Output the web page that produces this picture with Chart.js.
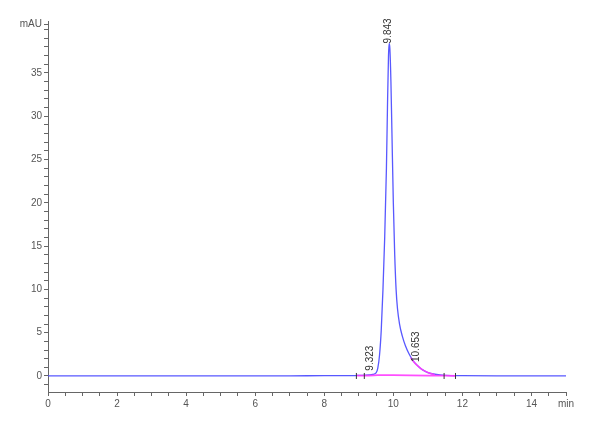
<!DOCTYPE html>
<html>
<head>
<meta charset="utf-8">
<script src="https://cdn.jsdelivr.net/npm/chart.js@4"></script>
<style>
  body { margin: 0; background: #fff; }
  canvas { display: block; }
</style>
</head>
<body>
<canvas id="chart" width="600" height="440"></canvas>
<script>
// chromatogram trace (min, mAU)
const times = [0, 1, 2, 3, 4, 5, 6, 7, 8, 8.5, 8.9, 9.0, 9.1, 9.2, 9.3, 9.4, 9.5, 9.55, 9.6, 9.65, 9.7, 9.75,
  9.8, 9.83, 9.86, 9.88, 9.9, 9.93, 9.96, 10.0, 10.04, 10.08, 10.12, 10.18, 10.26, 10.35, 10.45, 10.55,
  10.65, 10.75, 10.85, 11.0, 11.2, 11.5, 12, 13, 14, 15];
const mAU = [0.02, 0.02, 0.02, 0.02, 0.02, 0.02, 0.02, 0.02, 0.03, 0.03, 0.05, 0.07, 0.08, 0.1, 0.13, 0.18, 0.35, 0.9, 2.4, 5.3, 10, 16,
  24, 31, 37, 38.4, 37.8, 34, 28, 20, 14, 10, 7.8, 6, 4.6, 3.5, 2.6, 1.9,
  1.4, 1.0, 0.7, 0.4, 0.2, 0.06, 0.03, 0.02, 0.02, 0.02];

// integration baseline (magenta)
const baseX = [8.95, 9.3, 9.55, 10.0, 10.5, 11.0, 11.5, 11.8];
const baseY = [0.03, 0.05, 0.1, 0.1, 0.08, 0.05, 0.03, 0.02];
const tailX = [10.5, 10.6, 10.7, 10.85, 11.0, 11.2];
const tailY = [2.1, 1.6, 1.2, 0.7, 0.4, 0.15];

// small peak-boundary marks
const markX = [8.93, 9.16, 11.47, 11.8];

// peak labels
const peakNames = ['9.323', '9.843', '10.653'];
const peakTimes = [9.323, 9.843, 10.653];
const peakLabelY = [0.5, 38.3, 1.5];

// axis ticks
const xMajor = [0, 2, 4, 6, 8, 10, 12, 14];
const xTicks = [0, 0.5, 1, 1.5, 2, 2.5, 3, 3.5, 4, 4.5, 5, 5.5, 6, 6.5, 7, 7.5, 8, 8.5, 9, 9.5, 10, 10.5,
  11, 11.5, 12, 12.5, 13, 13.5, 14, 14.5, 15];
const yMajor = [0, 5, 10, 15, 20, 25, 30, 35];
const yTicks = [-1, 0, 1, 2, 3, 4, 5, 6, 7, 8, 9, 10, 11, 12, 13, 14, 15, 16, 17, 18, 19, 20, 21, 22, 23, 24,
  25, 26, 27, 28, 29, 30, 31, 32, 33, 34, 35, 36, 37, 38, 39, 40, 40.6];

const tickFont = { family: "'Liberation Sans Narrow', 'Liberation Sans', sans-serif", size: 10 };

const peakLabels = {
  id: 'peakLabels',
  afterDatasetsDraw(chart) {
    const ctx = chart.ctx;
    const xs = chart.scales.x, ys = chart.scales.y;
    ctx.save();
    ctx.font = "10px 'Liberation Sans Narrow', 'Liberation Sans', sans-serif";
    ctx.fillStyle = '#333';
    ctx.textAlign = 'left';
    ctx.textBaseline = 'middle';
    peakNames.forEach((name, i) => {
      ctx.save();
      ctx.translate(xs.getPixelForValue(peakTimes[i]), ys.getPixelForValue(peakLabelY[i]) - 1);
      ctx.rotate(-Math.PI / 2);
      ctx.fillText(name, 0, 0);
      ctx.restore();
    });
    ctx.restore();
  }
};

const ctx = document.getElementById('chart').getContext('2d');
new Chart(ctx, {
  type: 'line',
  data: {
    datasets: [
      {
        data: markX.map((x) => ({ x: x, y: 0 })),
        showLine: false,
        pointStyle: 'line',
        rotation: 90,
        radius: 3,
        borderColor: '#333',
        borderWidth: 1,
      },
      {
        data: tailX.map((x, i) => ({ x: x, y: tailY[i] })),
        borderColor: 'rgba(255, 60, 255, 0.9)',
        borderWidth: 1.5,
        pointRadius: 0,
        cubicInterpolationMode: 'monotone',
      },
      {
        data: baseX.map((x, i) => ({ x: x, y: baseY[i] })),
        borderColor: 'rgba(255, 60, 255, 0.9)',
        borderWidth: 1.8,
        pointRadius: 0,
      },
      {
        data: times.map((t, i) => ({ x: t, y: mAU[i] })),
        borderColor: 'rgba(70, 70, 255, 0.9)',
        borderWidth: 1.3,
        pointRadius: 0,
        cubicInterpolationMode: 'monotone',
      },
    ],
  },
  options: {
    responsive: false,
    animation: false,
    layout: { padding: { top: 21, right: 34, left: 0, bottom: 0 } },
    plugins: { legend: { display: false }, tooltip: { enabled: false } },
    scales: {
      x: {
        type: 'linear',
        min: 0,
        max: 15,
        afterBuildTicks: (scale) => { scale.ticks = xTicks.map((v) => ({ value: v })); },
        afterFit: (scale) => { scale.height = 48; },
        ticks: {
          autoSkip: false,
          maxRotation: 0,
          padding: 2,
          color: '#555',
          font: tickFont,
          callback: (v) => (v === 15 ? 'min' : xMajor.includes(v) ? String(v) : ''),
        },
        grid: { drawOnChartArea: false, tickLength: 4, tickColor: '#666' },
        border: { color: '#666' },
      },
      y: {
        type: 'linear',
        min: -1.85,
        max: 41,
        afterBuildTicks: (scale) => { scale.ticks = yTicks.map((v) => ({ value: v })); },
        afterFit: (scale) => { scale.width = 48; },
        ticks: {
          autoSkip: false,
          padding: 2,
          color: '#555',
          font: tickFont,
          callback: (v) => (v === 40.6 ? 'mAU' : yMajor.includes(v) ? String(v) : ''),
        },
        grid: { drawOnChartArea: false, tickLength: 4, tickColor: '#666' },
        border: { color: '#666' },
      },
    },
  },
  plugins: [peakLabels],
});
</script>
</body>
</html>
